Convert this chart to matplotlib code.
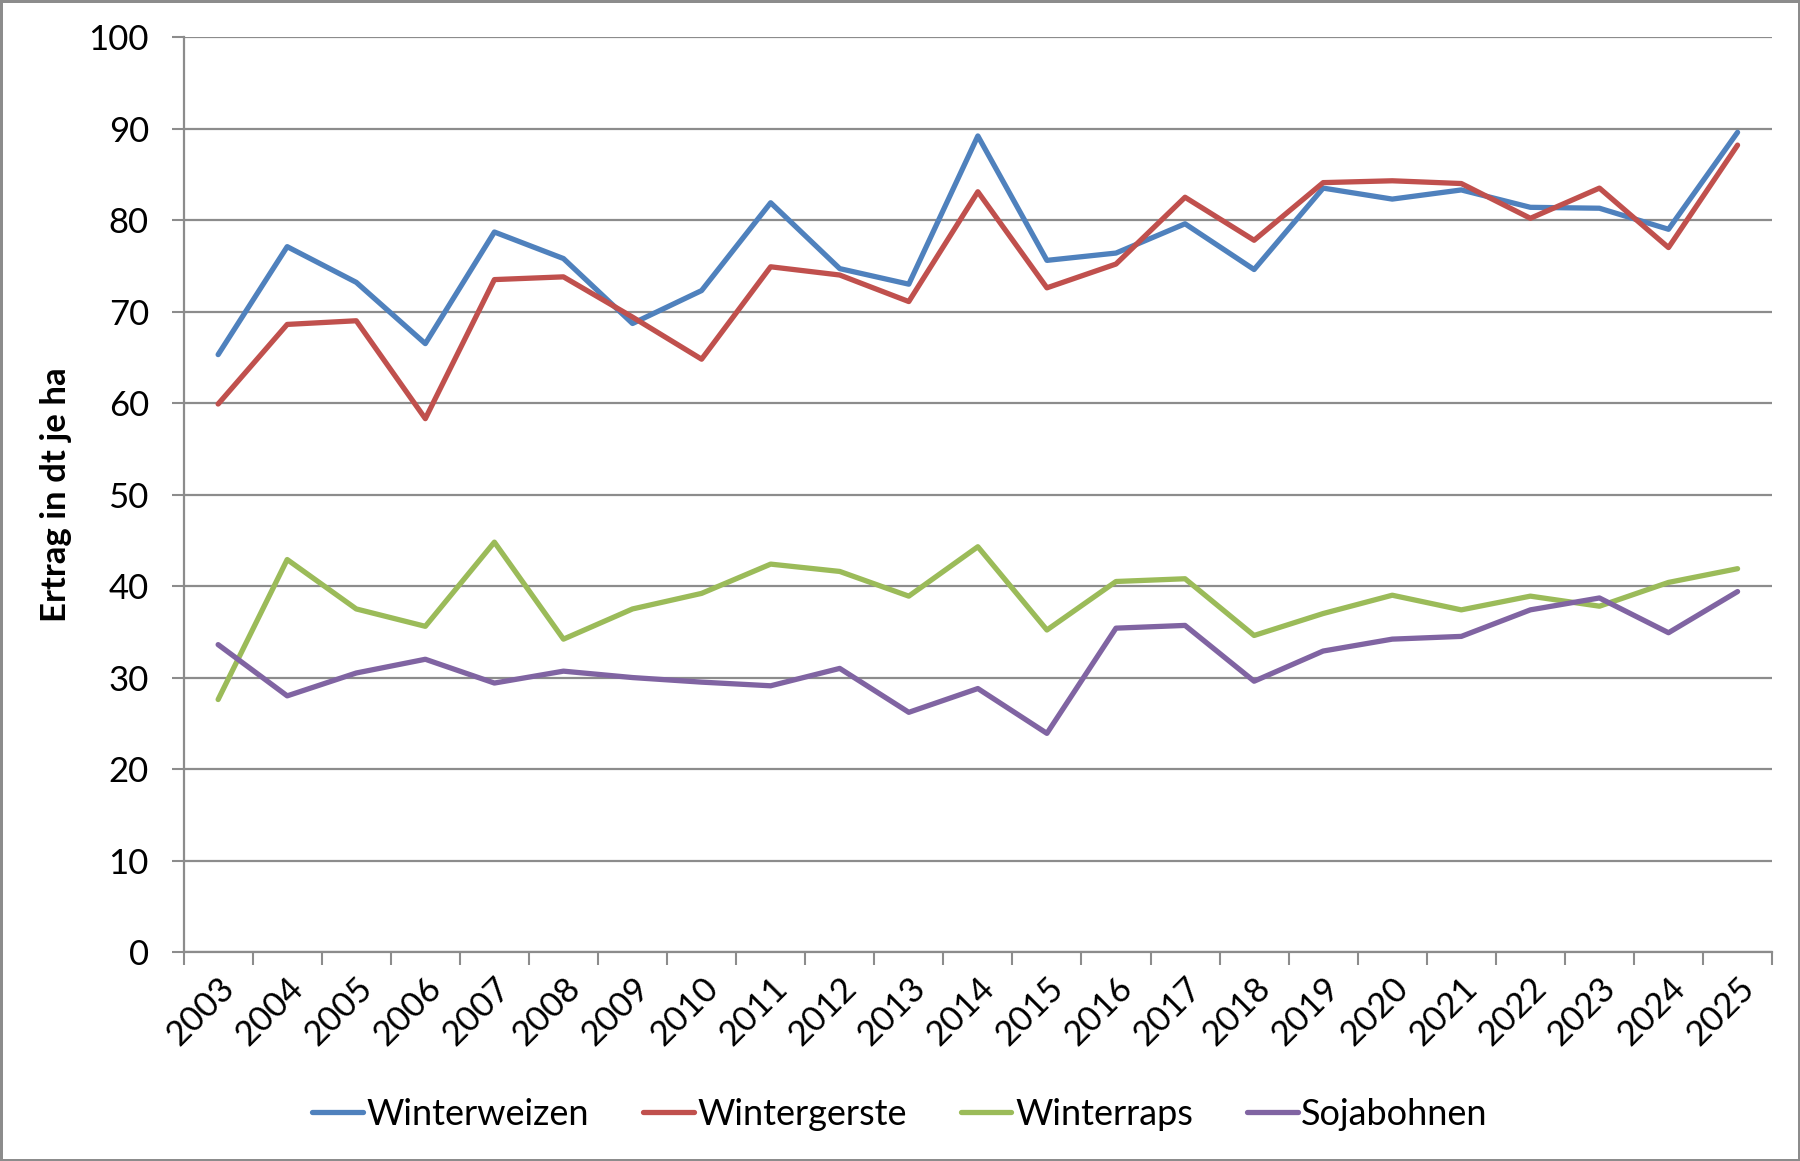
import numpy as np
import matplotlib.pyplot as plt
from matplotlib.ticker import FixedLocator

plt.rcParams['font.family'] = ['Lato', 'DejaVu Sans']

years = [str(y) for y in range(2003, 2026)]

winterweizen = [65.3, 77.1, 73.2, 66.5, 78.7, 75.8, 68.7, 72.3, 81.9, 74.7, 73.0, 89.2,
                75.6, 76.4, 79.6, 74.6, 83.5, 82.3, 83.3, 81.4, 81.3, 79.0, 89.6]
wintergerste = [59.9, 68.6, 69.0, 58.3, 73.5, 73.8, 69.4, 64.8, 74.9, 74.0, 71.1, 83.1,
                72.6, 75.2, 82.5, 77.8, 84.1, 84.3, 84.0, 80.2, 83.5, 77.0, 88.2]
winterraps = [27.6, 42.9, 37.5, 35.6, 44.8, 34.2, 37.5, 39.2, 42.4, 41.6, 38.9, 44.3,
              35.2, 40.5, 40.8, 34.6, 37.0, 39.0, 37.4, 38.9, 37.8, 40.4, 41.9]
sojabohnen = [33.6, 28.0, 30.5, 32.0, 29.4, 30.7, 30.0, 29.5, 29.1, 31.0, 26.2, 28.8,
              23.9, 35.4, 35.7, 29.6, 32.9, 34.2, 34.5, 37.4, 38.7, 34.9, 39.4]

series = [
    ('Winterweizen', winterweizen, '#4F81BD'),
    ('Wintergerste', wintergerste, '#C0504D'),
    ('Winterraps', winterraps, '#9BBB59'),
    ('Sojabohnen', sojabohnen, '#8064A2'),
]

grey = '#8C8C8C'

fig = plt.figure(figsize=(18, 11.61), dpi=100)
fig.patch.set_edgecolor(grey)
fig.patch.set_linewidth(2.5)
ax = fig.add_axes([0.102, 0.180, 0.8825, 0.788])

x = np.arange(len(years))
for name, vals, col in series:
    ax.plot(x, vals, color=col, lw=3.8, label=name, solid_capstyle='round',
            solid_joinstyle='round')

ax.set_xlim(-0.5, len(years) - 0.5)
ax.set_ylim(0, 100)
ax.set_yticks(np.arange(0, 101, 10))
ax.yaxis.grid(True, color=grey, lw=1.6)
ax.set_axisbelow(True)

# category labels in the middle, tick marks between categories
ax.set_xticks(x)
ax.set_xticklabels(years, rotation=45, ha='right', va='top', rotation_mode='anchor')
ax.xaxis.set_minor_locator(FixedLocator(np.arange(-0.5, len(years), 1)))
ax.tick_params(axis='x', which='major', length=0, labelsize=25, pad=14)
ax.tick_params(axis='x', which='minor', length=9, width=1.5, color=grey)
ax.tick_params(axis='y', length=9, width=1.5, color=grey, labelsize=25, pad=16)

for s in ['top', 'right']:
    ax.spines[s].set_visible(False)
for s in ['left', 'bottom']:
    ax.spines[s].set_color(grey)
    ax.spines[s].set_linewidth(1.6)

ax.set_ylabel('Ertrag in dt je ha', fontsize=25, fontweight='bold', labelpad=12)

fig.legend(loc='center', bbox_to_anchor=(0.5, 0.04), ncol=4, frameon=False,
           fontsize=26, handlelength=1.4, handletextpad=0.1, columnspacing=1.5)

plt.savefig('out.png', dpi=100, edgecolor=fig.get_edgecolor())
